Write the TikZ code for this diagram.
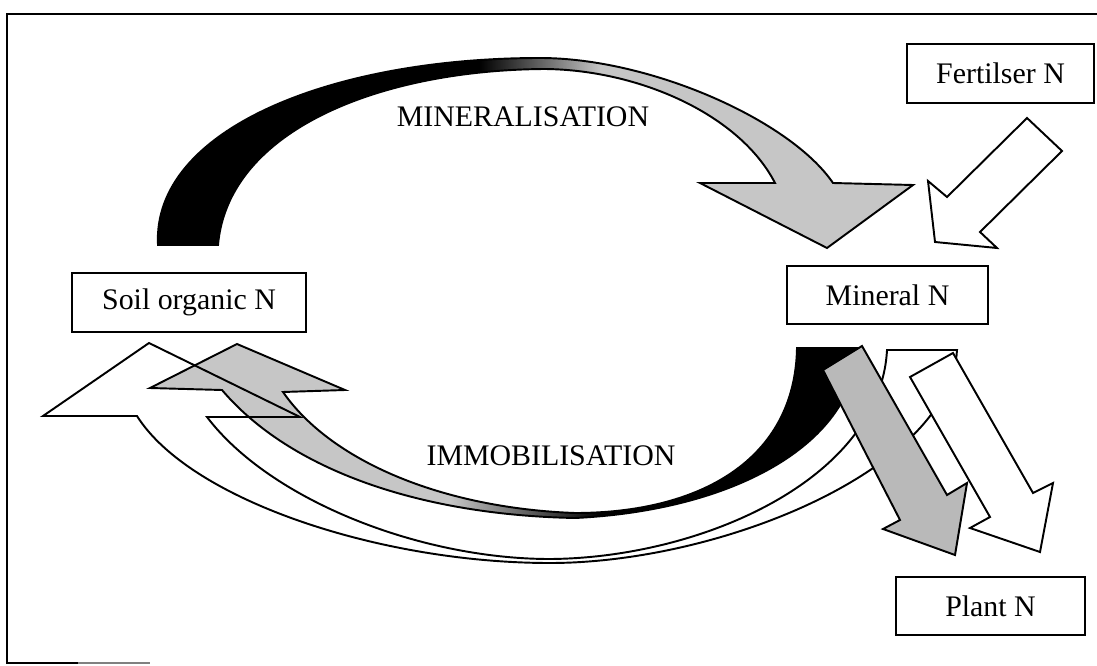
\documentclass[tikz,border=0pt]{standalone}
\usepackage{fontspec}
\setmainfont{Liberation Serif}
\newcommand\MinPath{(158,245) .. controls (152,130) and (330,58) .. (540,58) .. controls (650,58) and (790,120) .. (833,183) -- (913,185) -- (827,248) -- (700,183) -- (775,183) .. controls (740,115) and (640,70) .. (545,69) .. controls (380,70) and (228,130) .. (218,245) -- cycle}
\newcommand\ImmPath{(797,348) -- (857,348) .. controls (855,440) and (740,510) .. (575,518) .. controls (420,515) and (290,470) .. (222,390) -- (150,388) -- (237,344) -- (345,390) -- (283,392) .. controls (330,460) and (440,508) .. (575,513) .. controls (700,513) and (795,460) .. (797,348) -- cycle}
\newcommand\CresPath{(887,350) -- (957,350) .. controls (950,470) and (720,563) .. (550,563) .. controls (380,563) and (190,500) .. (137,416) -- (43,416) -- (149,343) -- (300,417) -- (207,417) .. controls (270,500) and (420,559) .. (550,559) .. controls (700,558) and (880,480) .. (887,350) -- cycle}
\begin{document}
\begin{tikzpicture}[x=0.02cm,y=-0.02cm,
  outl/.style={draw=black, line width=1.1pt, line join=miter},
  box/.style={draw=black, line width=1.1pt, fill=white, inner sep=0pt, font=\fontsize{17}{20}\selectfont},
  lbl/.style={font=\fontsize{17}{20}\selectfont, inner sep=0pt},
  frameline/.style={line width=1.2pt}]
\useasboundingbox (0,0) rectangle (1097,665);
% frame
\draw[frameline] (1097,14) -- (7,14) -- (7,663) -- (78,663);
\draw[frameline, gray] (78,663) -- (150,663);
% mineralisation arrow
\begin{scope}
  \clip \MinPath;
  \fill[black] (140,40) rectangle (480,260);
  \shade[left color=black, right color=gray!45] (479,40) rectangle (601,260);
  \fill[gray!45] (600,40) rectangle (930,260);
\end{scope}
\draw[outl] \MinPath;
% fertiliser arrow
\draw[outl, fill=white] (1027,118) -- (1062,151) -- (980,232) -- (997,248) -- (935,242) -- (928,181) -- (947,197) -- cycle;
% white crescent (fill)
\fill[white] \CresPath;
% immobilisation arrow
\begin{scope}
  \clip \ImmPath;
  \fill[gray!45] (130,330) rectangle (451,530);
  \shade[left color=gray!45, right color=black] (450,330) rectangle (601,530);
  \fill[black] (600,330) rectangle (870,530);
\end{scope}
\draw[outl] \ImmPath;
% white crescent (outline)
\draw[outl] \CresPath;
% plant arrows
\draw[outl, fill=gray!55] (823,370) -- (862,346) -- (947,495) -- (967,483) -- (955,555) -- (883,529) -- (900,520) -- cycle;
\draw[outl, fill=white] (910,377) -- (953,353) -- (1033,493) -- (1053,483) -- (1040,552) -- (970,528) -- (990,517) -- cycle;
% boxes
\node[box, minimum width=3.74cm, minimum height=1.18cm] (fert) at (1000.5,73.5) {Fertilser N};
\node[box, minimum width=4.02cm, minimum height=1.16cm] (mineral) at (887.5,295) {Mineral N};
\node[box, minimum width=4.68cm, minimum height=1.18cm] (soil) at (189,302.5) {Soil organic N};
\node[box, minimum width=3.78cm, minimum height=1.16cm] (plant) at (990.5,606) {Plant N};
% labels
\node[lbl] (minlbl) at (523,117) {MINERALISATION};
\node[lbl] (immlbl) at (551,456) {IMMOBILISATION};
\end{tikzpicture}
\end{document}
